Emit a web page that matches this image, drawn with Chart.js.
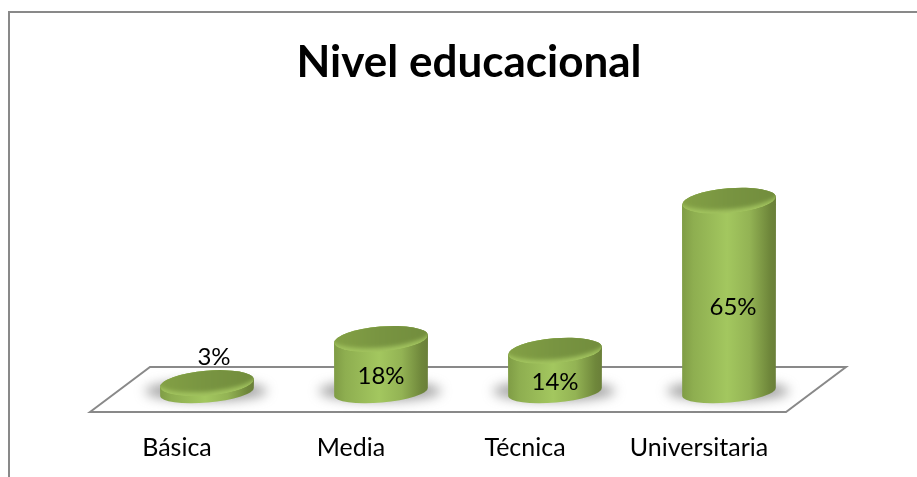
<!DOCTYPE html>
<html>
<head>
<meta charset="utf-8">
<script src="https://cdn.jsdelivr.net/npm/chart.js@4"></script>
<style>
  html, body { margin: 0; padding: 0; background: #fff; }
  canvas { display: block; }
</style>
</head>
<body>
<canvas id="nivelChart" width="917" height="477"></canvas>
<script>
// DATA
const categories = ['Básica', 'Media', 'Técnica', 'Universitaria'];
const percentages = [3, 18, 14, 65];

const chartTitle = 'Nivel educacional';
const fontName = 'Lato';

// floor depth, and where the cylinders stand on it
const depthX = 60;
const depthY = 45;
const standX = 30;
const standY = 20;
const tilt = -0.085;

function ellipsePath(ctx, x, y, rx, ry) {
    ctx.beginPath();
    ctx.ellipse(x, y, rx, ry, tilt, 0, Math.PI * 2);
}

// outer frame and floor, under the bars
const floorPlugin = {
    id: 'floor',
    beforeDatasetsDraw(chart) {
        const ctx = chart.ctx;
        const a = chart.chartArea;
        ctx.save();
        ctx.strokeStyle = '#898989';
        ctx.lineWidth = 2;
        ctx.strokeRect(9, 12, 1000, 1000);
        ctx.beginPath();
        ctx.moveTo(a.left, a.bottom);
        ctx.lineTo(a.left + depthX, a.bottom - depthY);
        ctx.lineTo(a.right + depthX, a.bottom - depthY);
        ctx.lineTo(a.right, a.bottom);
        ctx.closePath();
        ctx.stroke();
        ctx.restore();
    }
};

function drawCylinder(ctx, bar) {
    const rx = bar.width / 2;
    const ry = 12.5;
    const x = bar.x + standX;
    const topY = bar.y - standY;
    const baseY = bar.base - standY;
    const dy = Math.sin(tilt) * rx;

    // shadow on the floor
    ctx.save();
    ctx.filter = 'blur(6px)';
    ctx.fillStyle = 'rgba(110,110,110,0.65)';
    ctx.beginPath();
    ctx.ellipse(x - 1, baseY - 1, rx + 14, 10, 0, 0, Math.PI * 2);
    ctx.fill();
    ctx.restore();

    // side
    const side = ctx.createLinearGradient(x - rx, 0, x + rx, 0);
    side.addColorStop(0, '#7f9c45');
    side.addColorStop(0.12, '#8eae50');
    side.addColorStop(0.48, '#a3c75f');
    side.addColorStop(0.72, '#93b354');
    side.addColorStop(0.93, '#6f873b');
    side.addColorStop(1, '#6a7f39');
    ctx.fillStyle = side;
    ctx.beginPath();
    ctx.moveTo(x - rx, topY - dy);
    ctx.ellipse(x, baseY, rx, 10.5, tilt, Math.PI, 0, true);
    ctx.lineTo(x + rx, topY + dy);
    ctx.ellipse(x, topY, rx, ry, tilt, 0, Math.PI, true);
    ctx.closePath();
    ctx.fill();

    // top face, soft light rim along its lower edge
    ctx.save();
    ellipsePath(ctx, x, topY, rx, ry);
    ctx.clip();
    ctx.fillStyle = '#a2c45f';
    ctx.fill();
    const face = ctx.createLinearGradient(x - rx, 0, x + rx, 0);
    face.addColorStop(0, '#83a045');
    face.addColorStop(0.5, '#789441');
    face.addColorStop(1, '#728d3d');
    ctx.filter = 'blur(2px)';
    ctx.fillStyle = face;
    ellipsePath(ctx, x, topY - 4, rx + 3, ry);
    ctx.fill();
    ctx.restore();
}

const cylinderPlugin = {
    id: 'cylinders',
    afterDatasetsDraw(chart) {
        const ctx = chart.ctx;
        const bars = chart.getDatasetMeta(0).data;
        bars.forEach(bar => drawCylinder(ctx, bar));

        // value labels
        const labelShift = [7, 0, 0, 4];
        ctx.save();
        ctx.fillStyle = '#000';
        ctx.font = '24px ' + fontName;
        ctx.textAlign = 'center';
        ctx.textBaseline = 'middle';
        bars.forEach((bar, i) => {
            const x = bar.x + standX + labelShift[i];
            const y = percentages[i] < 5
                ? bar.y - standY - 26
                : (bar.y + bar.base) / 2 - standY + 11;
            ctx.fillText(percentages[i] + '%', x, y);
        });
        ctx.restore();
    }
};

new Chart(document.getElementById('nivelChart').getContext('2d'), {
    type: 'bar',
    data: {
        labels: categories,
        datasets: [{
            data: percentages,
            backgroundColor: 'transparent',
            borderWidth: 0,
            categoryPercentage: 0.6,
            barPercentage: 0.9
        }]
    },
    options: {
        responsive: false,
        animation: false,
        layout: {padding: {left: 21}},
        plugins: {
            legend: {display: false},
            tooltip: {enabled: false},
            title: {
                display: true,
                text: chartTitle,
                color: '#000',
                font: {family: fontName, size: 44, weight: 'bold'},
                padding: {top: 36, bottom: 34}
            }
        },
        scales: {
            x: {
                grid: {display: false, drawTicks: false},
                border: {display: false},
                ticks: {
                    color: '#000',
                    font: {family: fontName, size: 25},
                    padding: 21,
                    autoSkip: false,
                    maxRotation: 0
                },
                afterFit(axis) { axis.height = 65; }
            },
            y: {
                display: false,
                min: 0,
                max: 98.3,
                afterFit(axis) { axis.width = 69; }
            },
            // empty axis, keeps room for the floor depth on the right
            yRight: {
                axis: 'y',
                position: 'right',
                display: false,
                afterFit(axis) { axis.width = 131; }
            }
        }
    },
    plugins: [floorPlugin, cylinderPlugin]
});
</script>
</body>
</html>
